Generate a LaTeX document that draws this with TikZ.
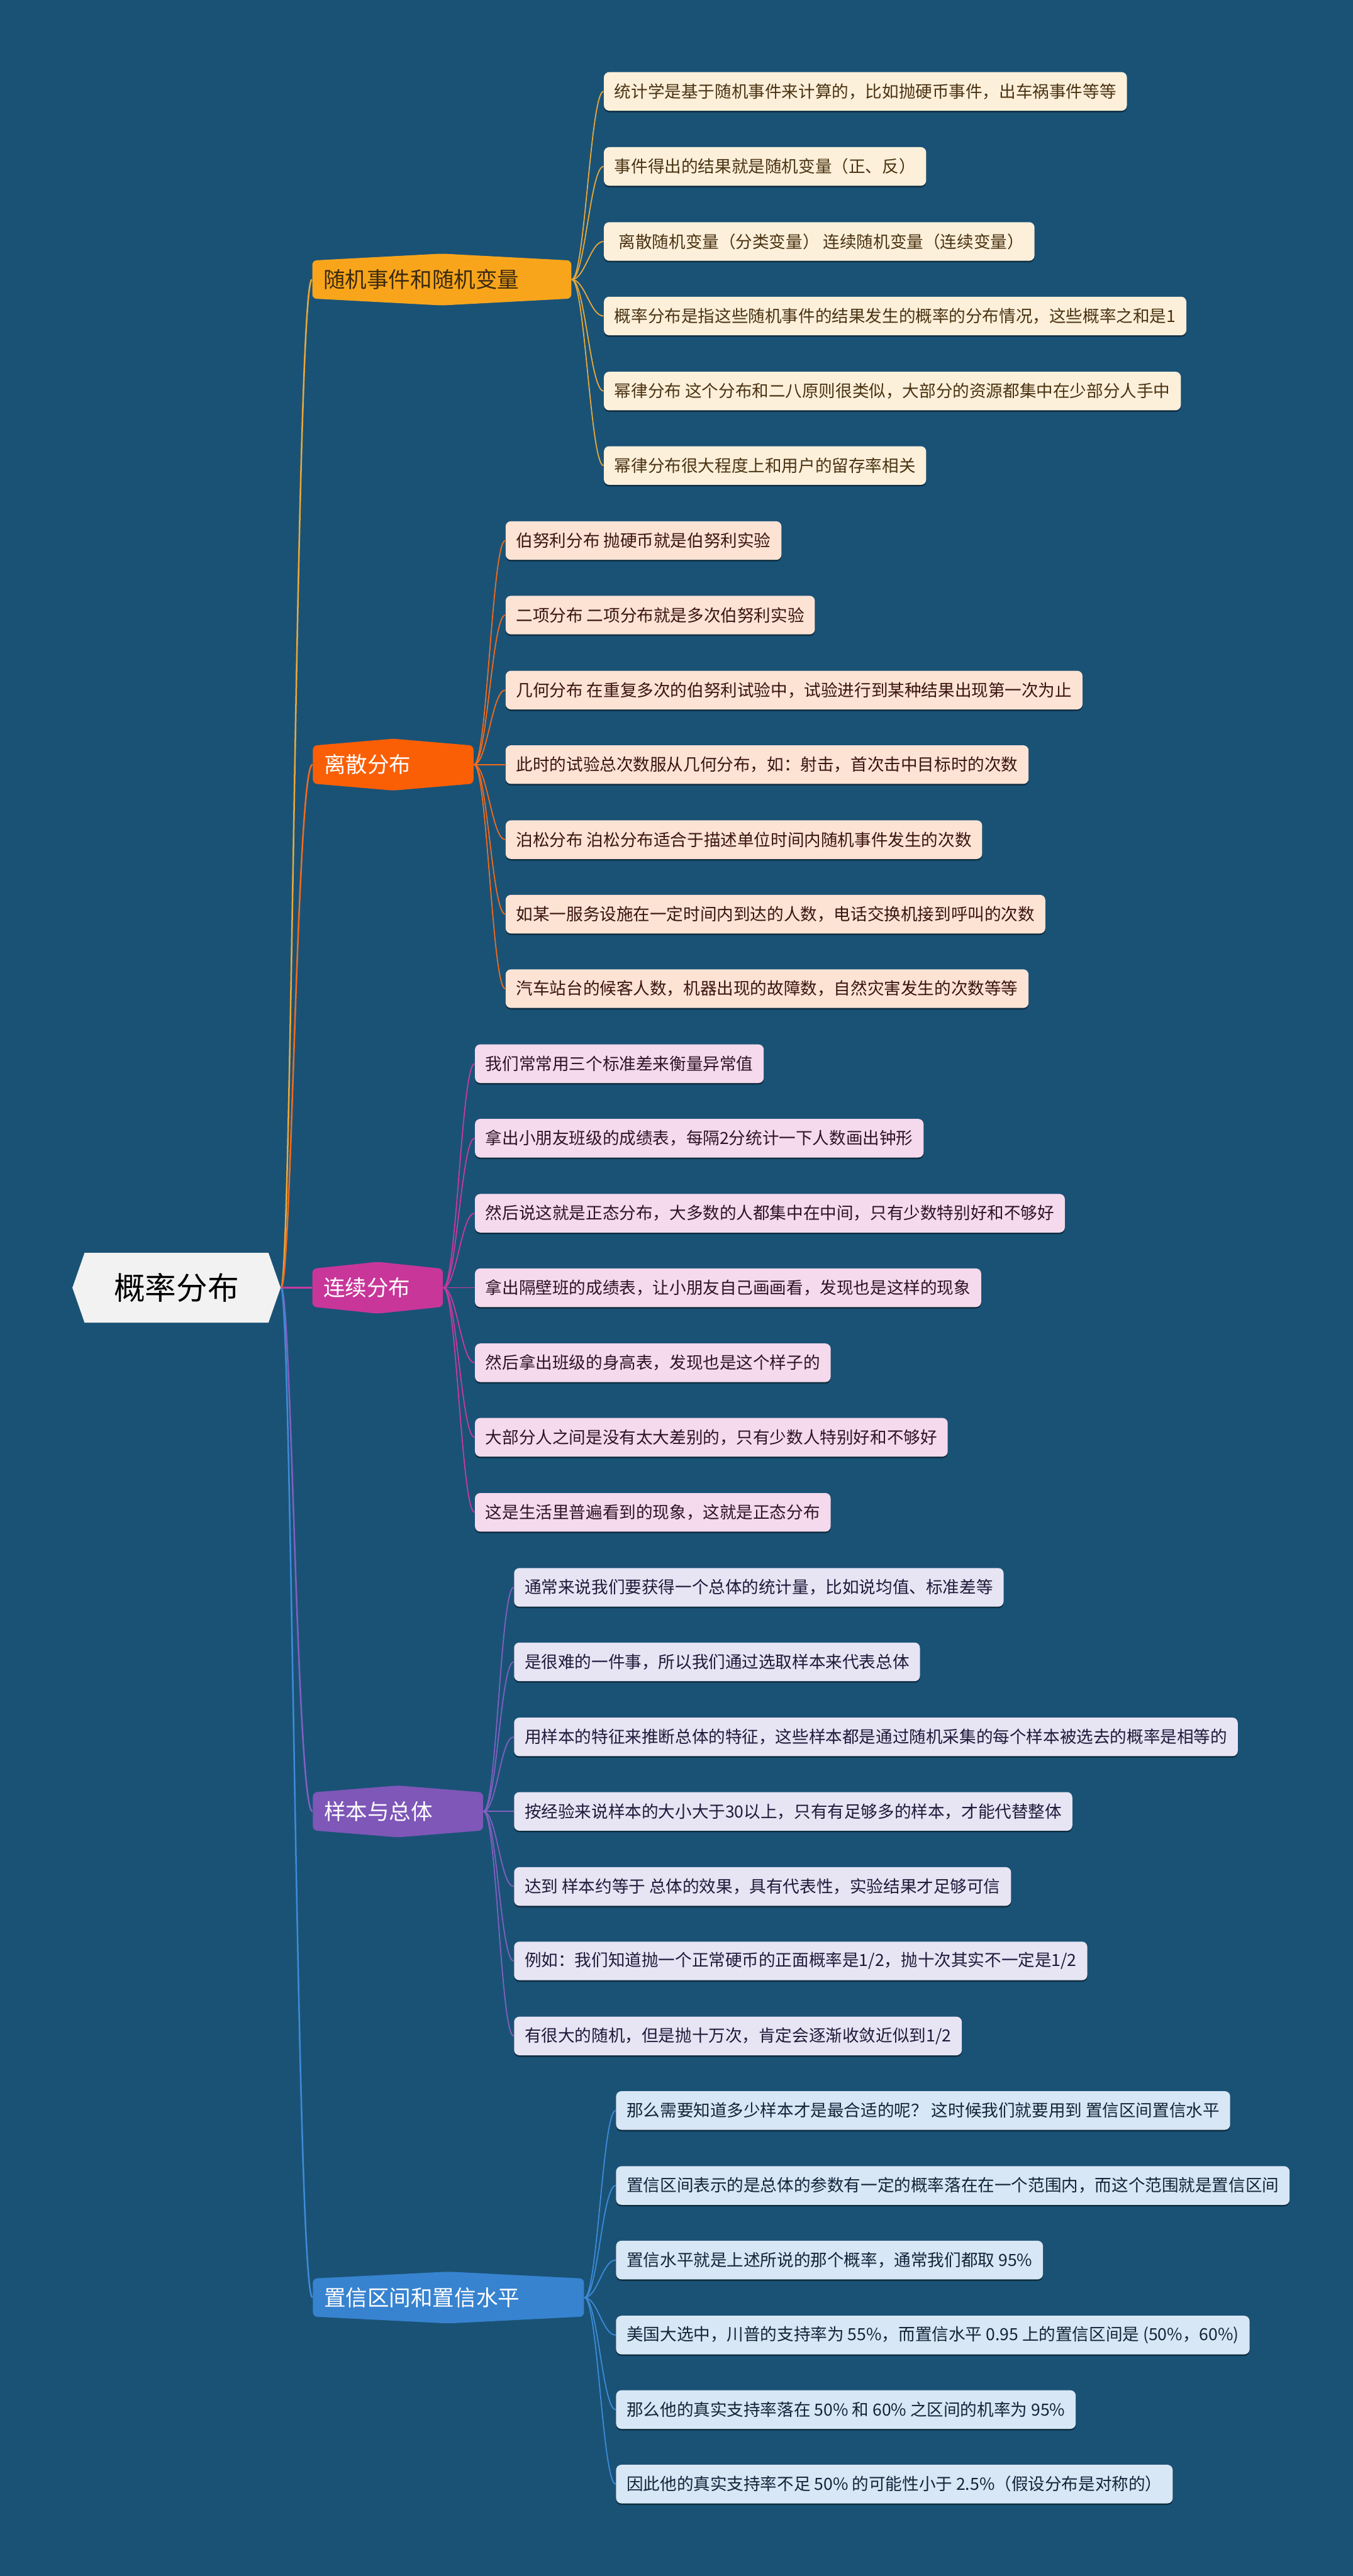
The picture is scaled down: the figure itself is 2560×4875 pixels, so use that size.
\documentclass[tikz,border=0pt]{standalone}
\usepackage{fontspec}
\setmainfont{Noto Sans CJK SC}
\usetikzlibrary{shadows}
\definecolor{bg}{HTML}{1A5276}
\definecolor{rootfill}{HTML}{F2F2F2}
% branch colours
\definecolor{mA}{HTML}{F8A51C}\definecolor{lA}{HTML}{E9A93A}\definecolor{fA}{HTML}{FDF0DA}\definecolor{tA}{HTML}{4A3312}
\definecolor{mB}{HTML}{FA5F05}\definecolor{lB}{HTML}{F26B1D}\definecolor{fB}{HTML}{FDE3D4}\definecolor{tB}{HTML}{3A1410}
\definecolor{mC}{HTML}{C8369A}\definecolor{lC}{HTML}{C93A9E}\definecolor{fC}{HTML}{F5D9EC}\definecolor{tC}{HTML}{2E1228}
\definecolor{mD}{HTML}{7E57B8}\definecolor{lD}{HTML}{8160C0}\definecolor{fD}{HTML}{E7E4F4}\definecolor{tD}{HTML}{1E1A3A}
\definecolor{mE}{HTML}{3783D0}\definecolor{lE}{HTML}{3D8BD8}\definecolor{fE}{HTML}{D8E7F5}\definecolor{tE}{HTML}{13243A}
\definecolor{mAtext}{HTML}{3B2A10}

\newcommand{\mainbr}[7]{%
  \pgfmathsetmacro{\mbcx}{(#2+#3)/2}%
  \pgfmathsetmacro{\mbtw}{(#3-#2-42)*0.01}%
  \fill[#5, rounded corners=0.08cm] (#2,#4-36) -- (\mbcx,#4-49) -- (#3,#4-36) -- (#3,#4+36) -- (\mbcx,#4+49) -- (#2,#4+36) -- cycle;
  \node[mainlbl, text=#6, text width=\mbtw cm] (#1) at (\mbcx,#4) {#7};
}

\begin{document}
\begin{tikzpicture}[x=0.01cm,y=-0.01cm,
  mainlbl/.style={inner xsep=0.21cm, inner ysep=0, align=left, minimum height=0.72cm,
    font=\fontsize{11.7pt}{14pt}\selectfont},
  leaf/.style={anchor=west, rounded corners=0.1cm, minimum height=0.73cm, inner xsep=0.2cm, inner ysep=0,
    font=\fontsize{9pt}{11pt}\selectfont,
    drop shadow={shadow xshift=0cm, shadow yshift=-0.03cm, opacity=0.45, fill=black}},
  leafA/.style={leaf, fill=fA, text=tA},
  leafB/.style={leaf, fill=fB, text=tB},
  leafC/.style={leaf, fill=fC, text=tC},
  leafD/.style={leaf, fill=fD, text=tD},
  leafE/.style={leaf, fill=fE, text=tE},
  trunk/.style={line width=0.85pt},
  twig/.style={line width=0.6pt}
]
\fill[bg] (0,0) rectangle (2560,4875);
\useasboundingbox (0,0) rectangle (2560,4875);

% root
\fill[rootfill] (137,2437) -- (160,2371) -- (508,2371) -- (531,2437) -- (508,2503) -- (160,2503) -- cycle;
\node[inner sep=0, minimum width=3.94cm, minimum height=1.3cm, font=\fontsize{16.8pt}{20pt}\selectfont, text=black] (root) at (334,2437) {概率分布};

% main branches
\mainbr{b1}{591}{1081}{529}{mA}{mAtext}{随机事件和随机变量}
\mainbr{b2}{592}{896}{1447}{mB}{white}{离散分布}
\mainbr{b3}{591}{838}{2437}{mC}{white}{连续分布}
\mainbr{b4}{592}{914}{3428}{mD}{white}{样本与总体}
\mainbr{b5}{592}{1105}{4348}{mE}{white}{置信区间和置信水平}

% trunk connectors
\draw[trunk, lA] (root.east) .. controls +(20,0) and +(-30,0) .. (b1.west);
\draw[trunk, lB] (root.east) .. controls +(20,0) and +(-30,0) .. (b2.west);
\draw[trunk, lC] (root.east) -- (b3.west);
\draw[trunk, lD] (root.east) .. controls +(20,0) and +(-30,0) .. (b4.west);
\draw[trunk, lE] (root.east) .. controls +(20,0) and +(-30,0) .. (b5.west);

% branch 1 leaves
\node[leafA] (a11) at (1142,173) {统计学是基于随机事件来计算的，比如抛硬币事件，出车祸事件等等};
\node[leafA] (a12) at (1142,315) {事件得出的结果就是随机变量（正、反）};
\node[leafA] (a13) at (1142,457) {\hspace{0.08cm}离散随机变量（分类变量） 连续随机变量（连续变量）};
\node[leafA] (a14) at (1142,598) {概率分布是指这些随机事件的结果发生的概率的分布情况，这些概率之和是1};
\node[leafA] (a15) at (1142,740) {幂律分布 这个分布和二八原则很类似，大部分的资源都集中在少部分人手中};
\node[leafA] (a16) at (1142,881) {幂律分布很大程度上和用户的留存率相关};

% branch 2 leaves
\node[leafB] (a21) at (956,1023) {伯努利分布 抛硬币就是伯努利实验};
\node[leafB] (a22) at (956,1164) {二项分布 二项分布就是多次伯努利实验};
\node[leafB] (a23) at (956,1306) {几何分布 在重复多次的伯努利试验中，试验进行到某种结果出现第一次为止};
\node[leafB] (a24) at (956,1447) {此时的试验总次数服从几何分布，如：射击，首次击中目标时的次数};
\node[leafB] (a25) at (956,1589) {泊松分布 泊松分布适合于描述单位时间内随机事件发生的次数};
\node[leafB] (a26) at (956,1730) {如某一服务设施在一定时间内到达的人数，电话交换机接到呼叫的次数};
\node[leafB] (a27) at (956,1871) {汽车站台的候客人数，机器出现的故障数，自然灾害发生的次数等等};

% branch 3 leaves
\node[leafC] (a31) at (898,2013) {我们常常用三个标准差来衡量异常值};
\node[leafC] (a32) at (898,2154) {拿出小朋友班级的成绩表，每隔2分统计一下人数画出钟形};
\node[leafC] (a33) at (898,2296) {然后说这就是正态分布，大多数的人都集中在中间，只有少数特别好和不够好};
\node[leafC] (a34) at (898,2437) {拿出隔壁班的成绩表，让小朋友自己画画看，发现也是这样的现象};
\node[leafC] (a35) at (898,2579) {然后拿出班级的身高表，发现也是这个样子的};
\node[leafC] (a36) at (898,2720) {大部分人之间是没有太大差别的，只有少数人特别好和不够好};
\node[leafC] (a37) at (898,2862) {这是生活里普遍看到的现象，这就是正态分布};

% branch 4 leaves
\node[leafD] (a41) at (972,3004) {通常来说我们要获得一个总体的统计量，比如说均值、标准差等};
\node[leafD] (a42) at (972,3145) {是很难的一件事，所以我们通过选取样本来代表总体};
\node[leafD] (a43) at (972,3287) {用样本的特征来推断总体的特征，这些样本都是通过随机采集的每个样本被选去的概率是相等的};
\node[leafD] (a44) at (972,3428) {按经验来说样本的大小大于30以上，只有有足够多的样本，才能代替整体};
\node[leafD] (a45) at (972,3570) {达到 样本约等于 总体的效果，具有代表性，实验结果才足够可信};
\node[leafD] (a46) at (972,3711) {例如：我们知道抛一个正常硬币的正面概率是1/2，抛十次其实不一定是1/2};
\node[leafD] (a47) at (972,3853) {有很大的随机，但是抛十万次，肯定会逐渐收敛近似到1/2};

% branch 5 leaves
\node[leafE] (a51) at (1165,3994) {那么需要知道多少样本才是最合适的呢？ 这时候我们就要用到 置信区间置信水平};
\node[leafE] (a52) at (1165,4136) {置信区间表示的是总体的参数有一定的概率落在在一个范围内，而这个范围就是置信区间};
\node[leafE] (a53) at (1165,4277) {置信水平就是上述所说的那个概率，通常我们都取 95\%};
\node[leafE] (a54) at (1165,4419) {美国大选中，川普的支持率为 55\%，而置信水平 0.95 上的置信区间是 (50\%，60\%)};
\node[leafE] (a55) at (1165,4560) {那么他的真实支持率落在 50\% 和 60\% 之区间的机率为 95\%};
\node[leafE] (a56) at (1165,4701) {因此他的真实支持率不足 50\% 的可能性小于 2.5\%（假设分布是对称的）};

% twig connectors
\foreach \i in {1,...,6} \draw[twig, lA] (b1.east) .. controls +(25,0) and +(-25,0) .. (a1\i.west);
\foreach \i in {1,...,7} \draw[twig, lB] (b2.east) .. controls +(25,0) and +(-25,0) .. (a2\i.west);
\foreach \i in {1,...,7} \draw[twig, lC] (b3.east) .. controls +(25,0) and +(-25,0) .. (a3\i.west);
\foreach \i in {1,...,7} \draw[twig, lD] (b4.east) .. controls +(25,0) and +(-25,0) .. (a4\i.west);
\foreach \i in {1,...,6} \draw[twig, lE] (b5.east) .. controls +(25,0) and +(-25,0) .. (a5\i.west);
\end{tikzpicture}
\end{document}
